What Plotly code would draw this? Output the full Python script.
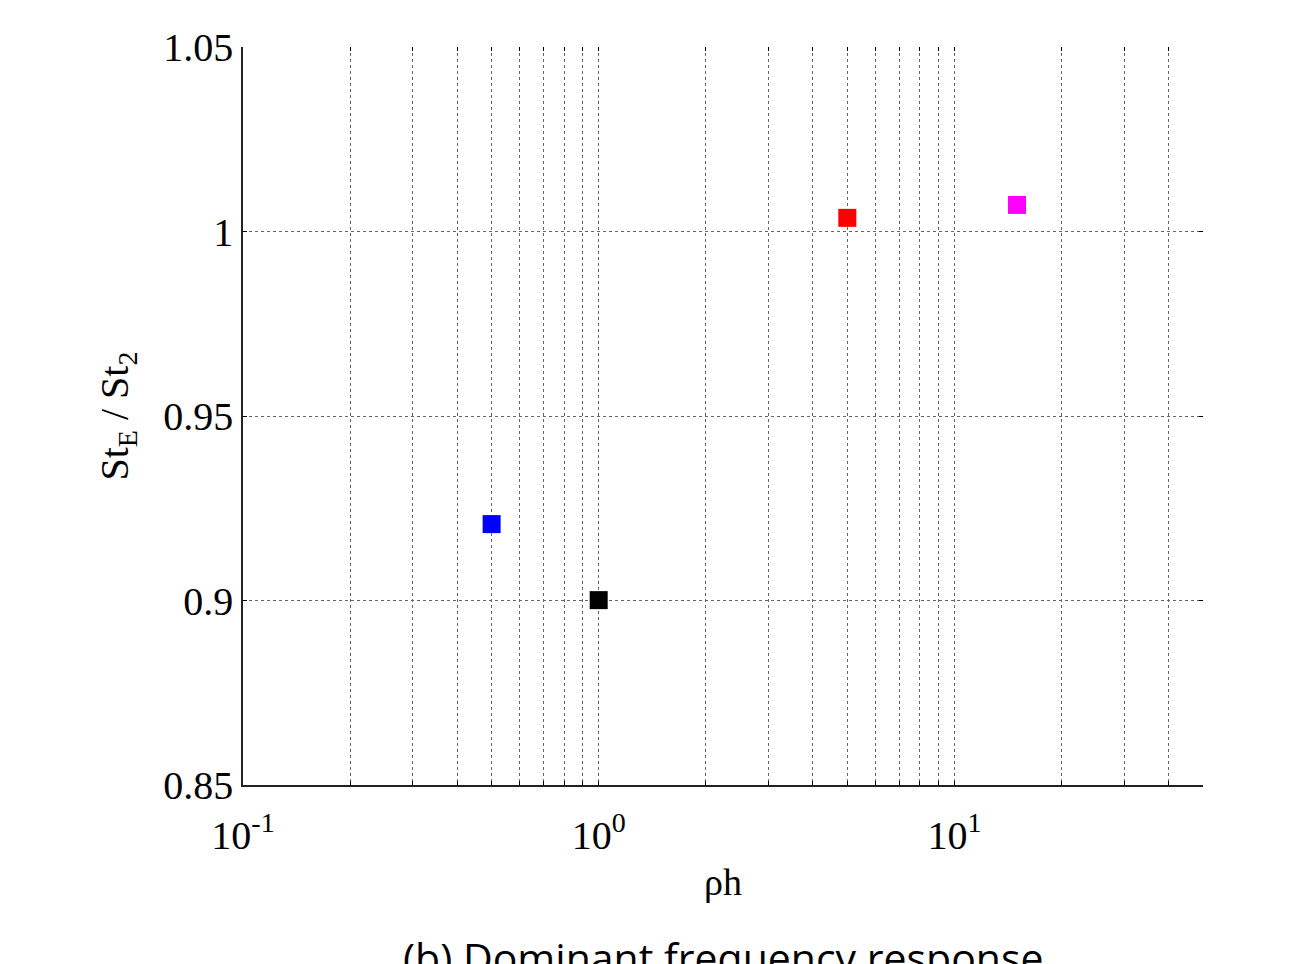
import plotly.graph_objects as go
import numpy as np

# Data
rho_h = [0.5, 1.0, 5.0, 15.0]
st_ratio = [0.9207, 0.9001, 1.0037, 1.0072]
colors = ["#0000ff", "#000000", "#ff0000", "#ff00ff"]

# Axis ticks
x_major = [0.1, 1, 10]
x_major_text = ["10<sup>-1</sup>", "10<sup>0</sup>", "10<sup>1</sup>"]
x_minor = [0.2, 0.3, 0.4, 0.5, 0.6, 0.7, 0.8, 0.9,
           2, 3, 4, 5, 6, 7, 8, 9, 20, 30, 40, 50]
y_ticks = [0.85, 0.9, 0.95, 1.0, 1.05]
y_ticktext = ["0.85", "0.9", "0.95", "1", "1.05"]

x_vals = x_major + x_minor
x_text = x_major_text + [""] * len(x_minor)

serif = "Liberation Serif"

fig = go.Figure()
for xv, yv, c in zip(rho_h, st_ratio, colors):
    fig.add_trace(go.Scatter(
        x=[xv], y=[yv], mode="markers",
        marker=dict(symbol="square", size=18, color=c, line=dict(width=0)),
        showlegend=False, hoverinfo="x+y"))

# invisible trace for top axis ticks
fig.add_trace(go.Scatter(x=[0.1, 50], y=[0.85, 1.05], xaxis="x2", yaxis="y2",
                         mode="markers", marker=dict(opacity=0), showlegend=False,
                         hoverinfo="skip"))

fig.update_layout(
    width=1308, height=964,
    margin=dict(l=243, r=105, t=47, b=179),
    plot_bgcolor="white", paper_bgcolor="white",
    xaxis=dict(
        type="log", range=[-1, np.log10(50)],
        tickmode="array", tickvals=x_vals, ticktext=x_text,
        showgrid=True, gridcolor="#666666", griddash="dot", gridwidth=1,
        showline=True, linecolor="#222222", linewidth=1.5,
        ticks="inside", ticklen=4, tickcolor="#000000",
        ticklabelstandoff=14,
        tickfont=dict(family=serif, size=40, color="#000000"),
        title=dict(text="ρh", font=dict(family=serif, size=38, color="#000000"), standoff=12),
        zeroline=False,
    ),
    yaxis=dict(
        range=[0.85, 1.05],
        tickmode="array", tickvals=y_ticks, ticktext=y_ticktext,
        showgrid=True, gridcolor="#666666", griddash="dot", gridwidth=1,
        showline=True, linecolor="#222222", linewidth=1.5,
        ticks="inside", ticklen=4, tickcolor="#000000",
        tickfont=dict(family=serif, size=40, color="#000000"),
        title=dict(text="St<sub>E</sub> / St<sub>2</sub>",
                   font=dict(family=serif, size=40, color="#000000"), standoff=22),
        zeroline=False,
    ),
    xaxis2=dict(
        type="log", range=[-1, np.log10(50)], overlaying="x", side="top",
        tickmode="array", tickvals=x_vals, ticktext=[""] * len(x_vals),
        showgrid=False, showline=False, ticks="inside", ticklen=4,
        tickcolor="#000000", zeroline=False,
    ),
    yaxis2=dict(
        range=[0.85, 1.05], overlaying="y", side="right",
        tickmode="array", tickvals=y_ticks, ticktext=[""] * len(y_ticks),
        showgrid=False, showline=False, ticks="inside", ticklen=4,
        tickcolor="#000000", zeroline=False,
    ),
    annotations=[dict(
        text="(b) Dominant frequency response",
        xref="paper", yref="paper", x=0.5, y=-0.2, xanchor="center", yanchor="top",
        yshift=6,
        showarrow=False,
        font=dict(family="Open Sans", size=41, color="#000000"),
    )],
)

fig.write_html("out.html")
